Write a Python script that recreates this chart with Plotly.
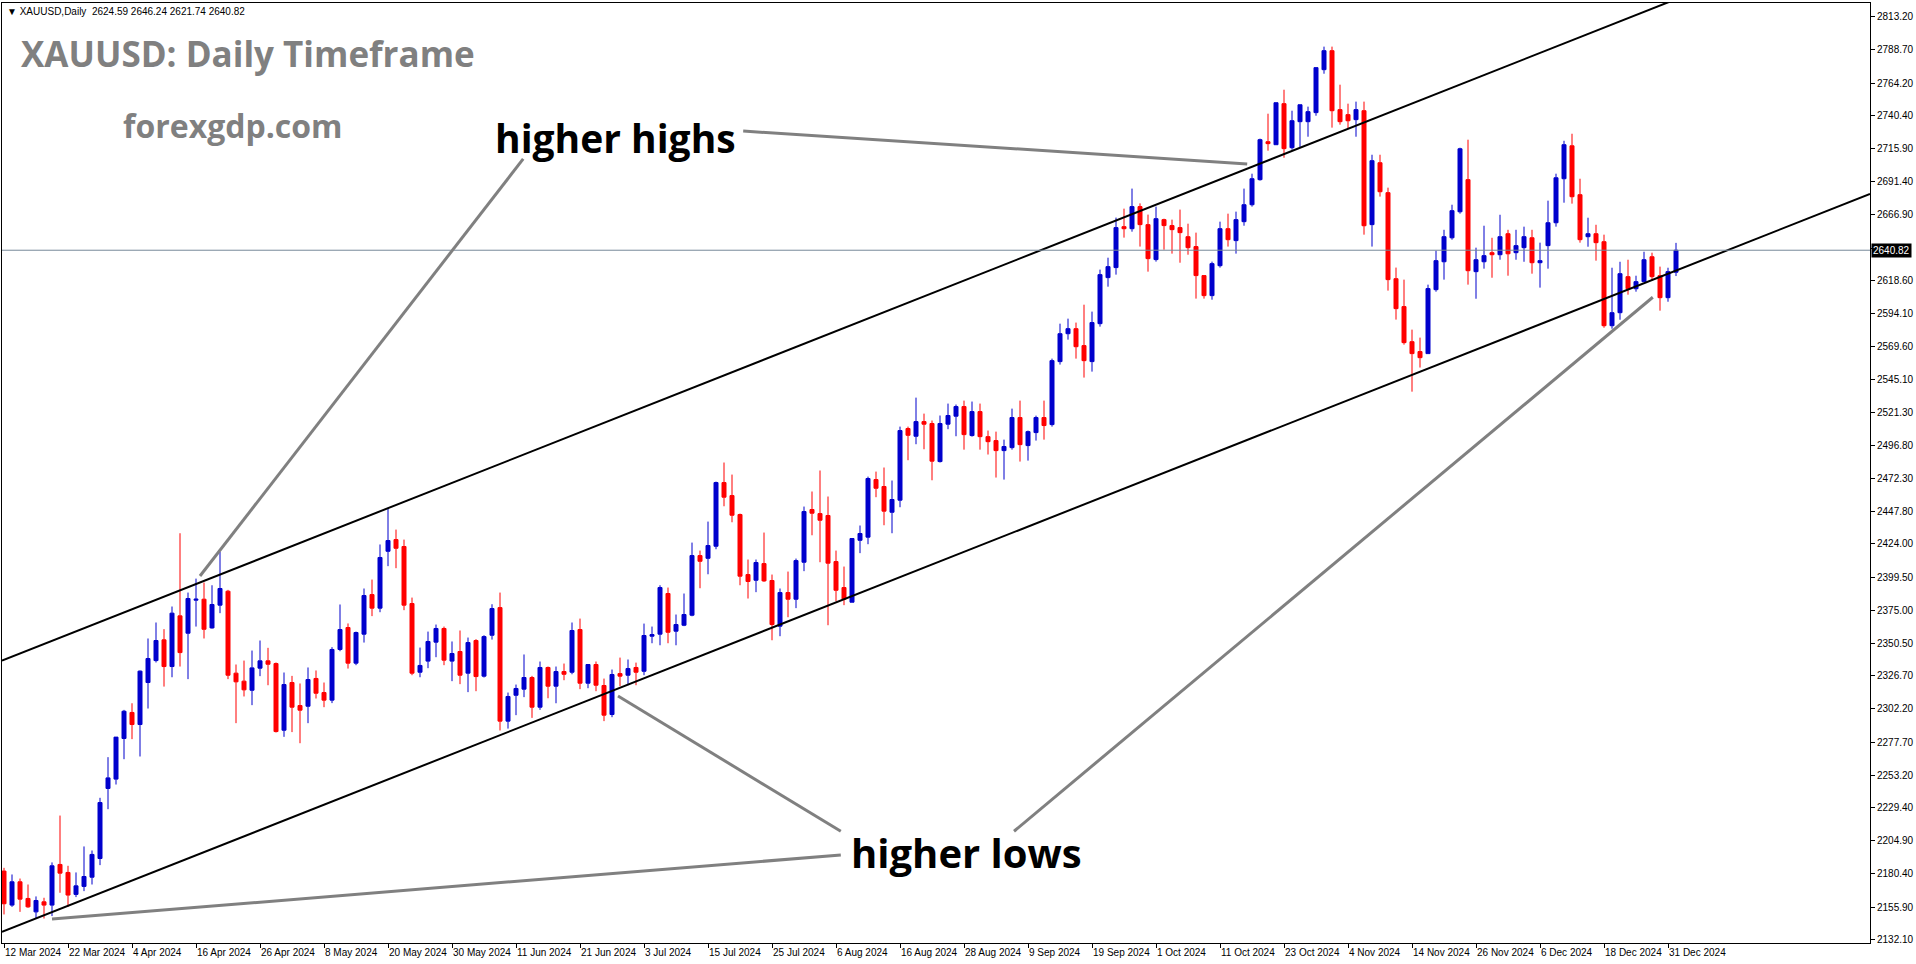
import plotly.graph_objects as go

# ---------------- data (daily XAUUSD candles, bar index 0 = 12 Mar 2024) ----------------
opens = [2182.5, 2157.4, 2174.6, 2162.3, 2152.4, 2159.8, 2157.4, 2187.4, 2181.5, 2165.3,
         2171.2, 2178.0, 2191.8, 2243.5, 2250.4, 2280.4, 2299.6, 2290.7, 2321.7, 2337.9,
         2353.2, 2333.5, 2370.9, 2358.1, 2382.5, 2383.2, 2362.0, 2378.8, 2389.1, 2328.6,
         2322.7, 2316.0, 2332.3, 2337.7, 2335.7, 2286.5, 2321.7, 2304.7, 2304.2, 2324.7,
         2314.3, 2308.7, 2346.1, 2362.3, 2336.0, 2357.4, 2386.6, 2376.6, 2418.6, 2427.2,
         2422.1, 2380.0, 2329.3, 2337.5, 2351.5, 2361.6, 2337.5, 2344.6, 2328.6, 2352.7,
         2326.4, 2356.6, 2377.0, 2293.2, 2312.3, 2316.8, 2325.4, 2303.5, 2332.8, 2319.0,
         2329.8, 2329.3, 2360.8, 2321.2, 2335.0, 2319.5, 2298.1, 2328.3, 2327.1, 2332.8,
         2330.0, 2355.9, 2357.4, 2387.4, 2359.6, 2364.0, 2371.4, 2415.4, 2413.4, 2422.3,
         2469.3, 2459.7, 2445.7, 2401.4, 2397.2, 2409.5, 2397.0, 2363.3, 2388.1, 2383.2,
         2410.5, 2449.4, 2446.4, 2445.0, 2411.0, 2391.8, 2381.0, 2426.7, 2429.0, 2471.5,
         2466.4, 2447.4, 2456.3, 2509.2, 2503.5, 2514.3, 2512.9, 2484.8, 2512.4, 2518.3,
         2525.4, 2504.0, 2521.7, 2503.2, 2500.3, 2492.9, 2495.1, 2517.3, 2496.6, 2506.2,
         2517.3, 2512.1, 2558.6, 2579.2, 2582.9, 2570.4, 2558.6, 2586.6, 2620.6, 2628.0,
         2658.2, 2656.7, 2673.0, 2659.7, 2633.9, 2663.4, 2659.0, 2657.5, 2650.8, 2643.5,
         2622.1, 2607.3, 2629.4, 2656.7, 2647.9, 2661.9, 2674.4, 2692.9, 2720.9, 2718.7,
         2749.0, 2716.5, 2735.7, 2735.7, 2742.4, 2774.1, 2788.1, 2744.6, 2740.9, 2737.2,
         2743.8, 2659.7, 2705.4, 2683.3, 2619.8, 2599.2, 2573.3, 2566.0, 2564.5, 2611.7,
         2632.3, 2650.0, 2669.2, 2692.9, 2625.0, 2632.3, 2639.0, 2637.5, 2653.0, 2639.0,
         2642.7, 2650.0, 2631.6, 2644.2, 2661.1, 2693.6, 2717.9, 2681.8, 2650.8, 2653.0,
         2647.1, 2585.1, 2594.7, 2621.3, 2612.4, 2617.6, 2636.0, 2622.0, 2605.8, 2624.59]
highs = [2184.9, 2180.0, 2177.0, 2172.6, 2163.8, 2162.8, 2188.9, 2223.5, 2186.4, 2181.5,
         2200.7, 2197.7, 2236.6, 2266.6, 2281.4, 2301.5, 2306.4, 2330.6, 2354.2, 2366.0,
         2361.1, 2377.8, 2431.9, 2388.1, 2398.4, 2395.5, 2393.5, 2418.1, 2390.1, 2335.0,
         2337.9, 2345.3, 2352.7, 2347.3, 2336.5, 2329.1, 2326.6, 2321.0, 2332.8, 2330.6,
         2321.7, 2347.8, 2379.3, 2365.3, 2359.3, 2391.1, 2397.7, 2423.6, 2450.6, 2434.6,
         2427.2, 2384.4, 2347.5, 2359.3, 2364.5, 2363.0, 2352.0, 2360.1, 2354.9, 2353.7,
         2356.6, 2379.5, 2388.1, 2314.3, 2320.2, 2342.4, 2326.6, 2337.2, 2333.5, 2333.5,
         2335.7, 2366.0, 2368.9, 2335.0, 2337.2, 2324.6, 2331.3, 2340.1, 2338.7, 2336.4,
         2365.2, 2363.0, 2393.5, 2391.8, 2371.9, 2387.4, 2425.0, 2419.1, 2440.5, 2470.0,
         2484.1, 2475.2, 2446.4, 2412.5, 2412.5, 2432.4, 2401.4, 2391.1, 2403.6, 2413.2,
         2451.6, 2462.7, 2478.2, 2459.0, 2419.1, 2407.3, 2428.0, 2437.6, 2473.7, 2477.4,
         2480.4, 2470.8, 2510.6, 2510.6, 2532.0, 2520.2, 2515.1, 2518.8, 2527.6, 2526.9,
         2529.8, 2529.1, 2527.6, 2507.7, 2506.9, 2501.0, 2523.9, 2529.8, 2507.7, 2518.7,
         2529.8, 2560.8, 2586.6, 2590.3, 2587.4, 2600.6, 2595.5, 2626.5, 2635.3, 2664.9,
         2671.5, 2686.3, 2675.4, 2667.1, 2673.0, 2664.1, 2663.4, 2670.8, 2660.4, 2653.8,
         2622.1, 2632.4, 2661.9, 2667.8, 2669.3, 2686.3, 2697.3, 2723.2, 2741.6, 2749.7,
         2759.3, 2743.8, 2748.2, 2746.8, 2775.6, 2791.1, 2791.1, 2763.0, 2749.0, 2750.5,
         2750.5, 2711.3, 2711.3, 2687.0, 2628.0, 2619.1, 2582.2, 2576.3, 2615.4, 2640.5,
         2655.9, 2674.4, 2716.5, 2722.4, 2642.7, 2658.9, 2650.0, 2667.0, 2655.9, 2655.9,
         2658.2, 2655.9, 2646.4, 2677.4, 2697.3, 2721.6, 2726.8, 2693.6, 2664.8, 2659.6,
         2652.3, 2627.9, 2632.3, 2633.8, 2622.0, 2639.7, 2639.0, 2628.7, 2627.9, 2646.24]
lows = [2150.5, 2156.1, 2152.4, 2155.4, 2147.5, 2147.5, 2149.3, 2166.5, 2156.1, 2163.3,
        2167.7, 2172.6, 2186.9, 2228.2, 2246.4, 2265.1, 2279.9, 2267.1, 2302.5, 2336.5,
        2318.7, 2325.6, 2333.5, 2324.2, 2363.0, 2354.2, 2361.5, 2372.9, 2324.2, 2291.7,
        2311.4, 2305.0, 2326.4, 2319.7, 2284.8, 2281.6, 2285.1, 2276.9, 2291.7, 2309.9,
        2303.5, 2306.5, 2344.8, 2332.0, 2334.5, 2351.2, 2370.7, 2373.6, 2407.6, 2406.1,
        2375.1, 2327.1, 2325.6, 2332.3, 2340.4, 2334.5, 2322.7, 2320.5, 2314.6, 2315.3,
        2325.4, 2353.4, 2286.3, 2287.7, 2297.6, 2310.9, 2295.6, 2301.5, 2310.1, 2306.4,
        2323.4, 2327.8, 2316.8, 2317.5, 2315.3, 2293.2, 2296.1, 2319.0, 2319.7, 2319.7,
        2327.1, 2350.7, 2349.2, 2350.7, 2349.2, 2363.3, 2370.6, 2391.3, 2401.6, 2420.1,
        2451.8, 2440.0, 2393.5, 2383.7, 2388.4, 2396.0, 2352.9, 2355.9, 2369.9, 2376.6,
        2403.9, 2430.4, 2410.5, 2364.0, 2381.7, 2378.8, 2381.0, 2417.2, 2423.8, 2458.5,
        2437.8, 2431.9, 2451.1, 2485.8, 2497.6, 2493.9, 2471.0, 2484.1, 2508.7, 2503.5,
        2493.6, 2503.2, 2493.6, 2490.0, 2473.0, 2471.5, 2493.6, 2484.8, 2485.5, 2500.3,
        2501.0, 2510.6, 2556.4, 2574.8, 2560.8, 2546.8, 2551.2, 2584.4, 2613.9, 2622.8,
        2650.1, 2654.5, 2643.5, 2625.0, 2632.4, 2641.2, 2638.3, 2631.6, 2637.5, 2605.1,
        2605.1, 2604.3, 2628.0, 2643.5, 2638.3, 2658.9, 2673.0, 2692.2, 2714.3, 2718.7,
        2709.1, 2715.0, 2716.5, 2724.6, 2740.1, 2771.1, 2731.3, 2733.5, 2730.5, 2724.6,
        2652.3, 2643.5, 2680.4, 2611.0, 2589.6, 2571.1, 2536.4, 2554.2, 2564.5, 2610.2,
        2619.1, 2648.6, 2667.8, 2615.4, 2605.0, 2627.2, 2620.5, 2633.8, 2622.0, 2633.8,
        2632.3, 2623.5, 2613.2, 2627.2, 2658.2, 2675.9, 2675.2, 2646.4, 2643.4, 2633.1,
        2583.6, 2582.9, 2589.5, 2608.0, 2610.2, 2617.6, 2618.3, 2596.2, 2602.8, 2621.74]
closes = [2158.4, 2174.6, 2161.8, 2156.1, 2160.8, 2157.4, 2186.4, 2181.0, 2164.8, 2171.6,
          2178.5, 2194.8, 2233.1, 2251.3, 2281.4, 2300.5, 2290.7, 2330.1, 2339.4, 2352.7,
          2333.5, 2372.9, 2343.8, 2383.7, 2383.2, 2361.0, 2379.3, 2391.1, 2327.1, 2322.2,
          2316.3, 2332.5, 2337.7, 2335.2, 2285.5, 2320.2, 2303.5, 2301.3, 2323.9, 2313.8,
          2308.7, 2346.1, 2360.8, 2336.0, 2358.6, 2385.9, 2376.6, 2414.0, 2426.5, 2420.8,
          2378.8, 2328.6, 2334.3, 2352.0, 2361.6, 2338.2, 2343.1, 2327.1, 2351.2, 2326.1,
          2355.6, 2376.3, 2293.2, 2311.4, 2317.3, 2325.4, 2303.5, 2332.8, 2319.0, 2329.8,
          2327.8, 2360.1, 2321.2, 2335.0, 2319.7, 2297.6, 2327.6, 2326.4, 2332.0, 2329.3,
          2356.4, 2357.1, 2391.8, 2358.8, 2364.5, 2371.9, 2415.4, 2411.2, 2422.8, 2469.3,
          2458.5, 2445.2, 2400.2, 2396.3, 2410.3, 2396.7, 2364.5, 2388.1, 2383.2, 2411.7,
          2447.9, 2446.7, 2441.5, 2409.8, 2389.8, 2383.2, 2428.0, 2431.7, 2472.3, 2465.1,
          2448.2, 2456.8, 2507.7, 2504.2, 2514.3, 2512.4, 2485.1, 2512.9, 2518.8, 2525.4,
          2504.7, 2521.7, 2503.2, 2499.5, 2492.9, 2495.9, 2517.3, 2497.3, 2506.9, 2517.3,
          2511.4, 2559.3, 2579.2, 2582.9, 2569.6, 2559.3, 2587.4, 2622.8, 2628.7, 2657.5,
          2656.7, 2673.0, 2659.7, 2634.6, 2664.1, 2659.0, 2656.0, 2653.8, 2642.7, 2622.1,
          2607.3, 2630.9, 2656.7, 2648.6, 2663.4, 2674.4, 2693.6, 2722.4, 2719.5, 2749.7,
          2715.8, 2736.4, 2748.2, 2743.1, 2775.6, 2788.1, 2743.8, 2735.7, 2736.4, 2744.6,
          2658.9, 2706.9, 2684.0, 2619.1, 2597.7, 2572.6, 2564.5, 2561.5, 2612.5, 2633.1,
          2650.8, 2670.0, 2715.7, 2625.7, 2633.8, 2636.8, 2637.5, 2650.8, 2638.2, 2644.2,
          2650.8, 2631.6, 2633.1, 2661.1, 2694.3, 2718.7, 2680.3, 2648.6, 2653.0, 2646.4,
          2585.1, 2594.7, 2623.5, 2612.4, 2617.6, 2633.8, 2621.3, 2605.8, 2625.0, 2640.82]

date_labels = ["12 Mar 2024", "22 Mar 2024", "4 Apr 2024", "16 Apr 2024", "26 Apr 2024",
               "8 May 2024", "20 May 2024", "30 May 2024", "11 Jun 2024", "21 Jun 2024",
               "3 Jul 2024", "15 Jul 2024", "25 Jul 2024", "6 Aug 2024", "16 Aug 2024",
               "28 Aug 2024", "9 Sep 2024", "19 Sep 2024", "1 Oct 2024", "11 Oct 2024",
               "23 Oct 2024", "4 Nov 2024", "14 Nov 2024", "26 Nov 2024", "6 Dec 2024",
               "18 Dec 2024", "31 Dec 2024"]
label_every = 8

price_ticks = [2813.20, 2788.70, 2764.20, 2740.40, 2715.90, 2691.40, 2666.90, 2642.40,
               2618.60, 2594.10, 2569.60, 2545.10, 2521.30, 2496.80, 2472.30, 2447.80,
               2424.00, 2399.50, 2375.00, 2350.50, 2326.70, 2302.20, 2277.70, 2253.20,
               2229.40, 2204.90, 2180.40, 2155.90, 2132.10]

last_price = 2640.82
header_text = "\u25bc XAUUSD,Daily  2624.59 2646.24 2621.74 2640.82"

# channel trend lines: (bar, price) anchor points
upper_channel = [(0, 2338.4), (200, 2805.1)]
lower_channel = [(0, 2138.2), (200, 2604.8)]

# grey pointer lines (bar, price) -> (bar, price)
pointers = [
    ((24.5, 2400.3), (64.9, 2708.2)),
    ((92.4, 2728.8), (155.4, 2704.5)),
    ((76.75, 2311.7), (104.6, 2211.9)),
    ((6.0, 2147.1), (104.6, 2194.4)),
    ((126.25, 2211.9), (206.1, 2606.1)),
]

# ---------------- layout geometry ----------------
W, H = 1916, 964
ML, MR, MT, MB = 2, 46, 3, 21
x_range = [-0.25, 233.25]
y_range = [2129.42, 2823.31]
PW, PH = W - ML - MR, H - MT - MB

def px(x):
    return (x - ML) / PW

def py(y):
    return (H - MB - y) / PH

BLUE = "#0000CC"
RED = "#FF0000"

bars = list(range(len(opens)))

fig = go.Figure()

fig.add_trace(go.Candlestick(
    x=bars, open=opens, high=highs, low=lows, close=closes,
    increasing=dict(line=dict(color=BLUE, width=1), fillcolor=BLUE),
    decreasing=dict(line=dict(color=RED, width=1), fillcolor=RED),
    whiskerwidth=0, showlegend=False, hoverinfo="skip",
))

def extend(pts):
    (x0, y0), (x1, y1) = pts
    s = (y1 - y0) / (x1 - x0)
    return [x_range[0], x_range[1]], [y0 + s * (x_range[0] - x0), y0 + s * (x_range[1] - x0)]

for ch in (upper_channel, lower_channel):
    xs, ys = extend(ch)
    fig.add_trace(go.Scatter(x=xs, y=ys, mode="lines",
                             line=dict(color="black", width=2),
                             showlegend=False, hoverinfo="skip"))

# current price line
fig.add_trace(go.Scatter(x=x_range, y=[last_price, last_price], mode="lines",
                         line=dict(color="#778899", width=1),
                         showlegend=False, hoverinfo="skip"))

for (a, b) in pointers:
    fig.add_trace(go.Scatter(x=[a[0], b[0]], y=[a[1], b[1]], mode="lines",
                             line=dict(color="#808080", width=3),
                             showlegend=False, hoverinfo="skip"))

annotations = [
    dict(text=header_text, x=px(5), y=py(11.5), xanchor="left", yanchor="middle",
         font=dict(family="Liberation Sans", size=10, color="black")),
    dict(text="XAUUSD: Daily Timeframe", x=px(19), y=py(53), xanchor="left", yanchor="middle",
         font=dict(family="Open Sans", size=35, color="#808080", weight="bold")),
    dict(text="forexgdp.com", x=px(121), y=py(125), xanchor="left", yanchor="middle",
         font=dict(family="Open Sans", size=32, color="#808080", weight="bold")),
    dict(text="higher highs", x=px(493), y=py(137), xanchor="left", yanchor="middle",
         font=dict(family="Open Sans", size=39, color="black", weight="bold")),
    dict(text="higher lows", x=px(849), y=py(852), xanchor="left", yanchor="middle",
         font=dict(family="Open Sans", size=40, color="black", weight="bold")),
    dict(text=f"{last_price:.2f}", x=1, xref="paper", y=last_price, yref="y",
         xanchor="left", yanchor="middle", xshift=1, bgcolor="black", borderpad=1,
         font=dict(family="Liberation Sans", size=10, color="white")),
]
for a in annotations:
    a.setdefault("xref", "paper")
    a.setdefault("yref", "paper")
    a["showarrow"] = False

# tick label hidden under the current-price box
price_ticktext = ["" if abs(v - last_price) < 5 else f"{v:.2f}" for v in price_ticks]

fig.update_layout(
    width=W, height=H,
    margin=dict(l=ML, r=MR, t=MT, b=MB),
    paper_bgcolor="white", plot_bgcolor="white",
    boxgap=0.5, boxgroupgap=0,
    annotations=annotations,
    showlegend=False,
    hovermode=False,
)
fig.update_xaxes(
    range=x_range, rangeslider=dict(visible=False), showgrid=False, zeroline=False,
    tickmode="array", tickvals=bars[::label_every][:len(date_labels)], ticktext=date_labels,
    ticks="outside", ticklen=4, tickcolor="black", ticklabelposition="outside right",
    tickangle=0,
    tickfont=dict(family="Liberation Sans", size=10, color="black"),
    showline=True, linecolor="black", linewidth=1, mirror=True, automargin=False,
)
fig.update_yaxes(
    range=y_range, side="right", showgrid=False, zeroline=False,
    tickmode="array", tickvals=price_ticks, ticktext=price_ticktext,
    ticks="outside", ticklen=4, tickcolor="black",
    tickfont=dict(family="Liberation Sans", size=10, color="black"),
    showline=True, linecolor="black", linewidth=1, mirror=True, automargin=False,
)

fig.write_html(
    "out.html",
    config={"displayModeBar": False},
    post_script="document.body.style.margin='0';document.body.style.overflow='hidden';",
)
